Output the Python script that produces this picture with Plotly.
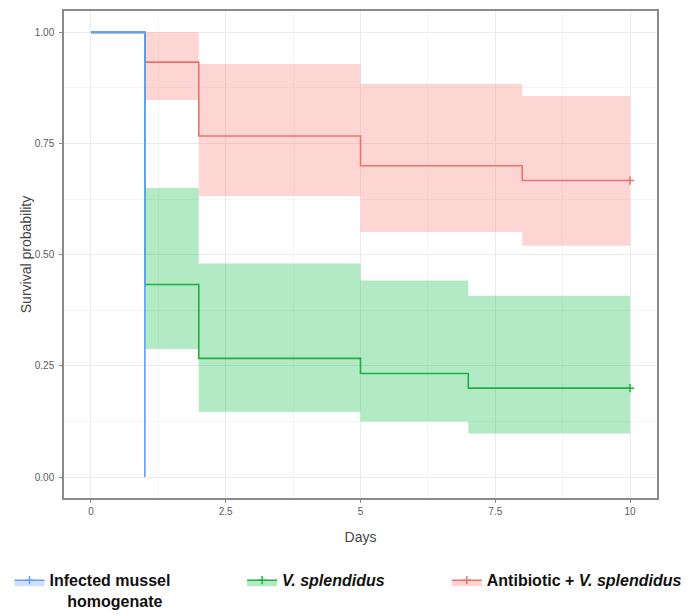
import plotly.graph_objects as go

# ---- data ----
groups = ["Infected mussel<br>\u00a0\u00a0\u00a0\u00a0homogenate",
          "<i>V. splendidus</i>",
          "Antibiotic + <i>V. splendidus</i>"]

blue_days = [0, 1]
blue_surv = [1.0, 0.0]

green_days = [0, 1, 2, 5, 7, 10]
green_surv = [1.0, 0.433, 0.267, 0.233, 0.200, 0.200]
green_upper = [1.0, 0.650, 0.480, 0.442, 0.408, 0.408]
green_lower = [1.0, 0.288, 0.147, 0.125, 0.098, 0.098]

red_days = [0, 1, 2, 5, 8, 10]
red_surv = [1.0, 0.933, 0.767, 0.700, 0.667, 0.667]
red_upper = [1.0, 1.000, 0.929, 0.884, 0.857, 0.857]
red_lower = [1.0, 0.848, 0.632, 0.551, 0.520, 0.520]

x_ticks = [0, 2.5, 5, 7.5, 10]
x_tick_labels = ["0", "2.5", "5", "7.5", "10"]
y_ticks = [0, 0.25, 0.5, 0.75, 1.0]
y_tick_labels = ["0.00", "0.25", "0.50", "0.75", "1.00"]

BLUE = "#619CFF"
GREEN = "#1FAF45"
RED = "#EA726B"
GREEN_FILL = "rgba(0,186,56,0.30)"
RED_FILL = "rgba(248,118,109,0.30)"
BLUE_FILL = "rgba(97,156,255,0.30)"

fig = go.Figure()

# confidence bands
for days, lo, up, fillc in [(red_days, red_lower, red_upper, RED_FILL),
                            (green_days, green_lower, green_upper, GREEN_FILL)]:
    fig.add_trace(go.Scatter(x=days, y=lo, mode="lines", line=dict(width=0, shape="hv"),
                             showlegend=False, hoverinfo="skip"))
    fig.add_trace(go.Scatter(x=days, y=up, mode="lines", line=dict(width=0, shape="hv"),
                             fill="tonexty", fillcolor=fillc, showlegend=False, hoverinfo="skip"))

# survival curves
for days, surv, col in [(red_days, red_surv, RED), (green_days, green_surv, GREEN)]:
    fig.add_trace(go.Scatter(x=days, y=surv, mode="lines", line=dict(color=col, width=1.6, shape="hv"),
                             showlegend=False))
    fig.add_trace(go.Scatter(x=[days[-1]], y=[surv[-1]], mode="markers",
                             marker=dict(symbol="cross-thin", size=6, line=dict(color=col, width=1.5)),
                             showlegend=False))
fig.add_trace(go.Scatter(x=blue_days, y=blue_surv, mode="lines",
                         line=dict(color=BLUE, width=1.6, shape="hv"), showlegend=False))

# legend entries (one legend box per group, positioned like the reference)
legend_ids = ["legend", "legend2", "legend3"]
for name, col, fillc, lid in zip(groups, [BLUE, GREEN, RED], [BLUE_FILL, GREEN_FILL, RED_FILL], legend_ids):
    fig.add_trace(go.Scatter(x=[None], y=[None], mode="lines+markers", name=name, legend=lid,
                             line=dict(color=col, width=1.5), fill="toself", fillcolor=fillc,
                             marker=dict(symbol="cross-thin", size=6, line=dict(color=col, width=1.5))))

axis_common = dict(showline=True, linecolor="#8a8a8a", linewidth=1.5, mirror=True,
                   ticks="outside", ticklen=3, tickcolor="#8a8a8a",
                   gridcolor="#ebebeb", gridwidth=1, zeroline=False,
                   tickfont=dict(family="Liberation Sans, Arial", size=10, color="#5a5a5a"))

leg_font = dict(family="Liberation Sans, Arial", size=16, color="#111", weight="bold")
leg_common = dict(orientation="h", xanchor="left", yanchor="top", valign="top",
                  y=-0.134, font=leg_font, bgcolor="rgba(0,0,0,0)")

fig.update_layout(
    width=689, height=616,
    margin=dict(l=55, r=40, t=1, b=126),
    plot_bgcolor="white", paper_bgcolor="white",
    xaxis=dict(range=[-0.5, 10.5], tickvals=x_ticks, ticktext=x_tick_labels,
               minor=dict(dtick=1.25, tick0=0, showgrid=True, gridcolor="#f5f5f5", ticks=""),
               title=dict(text="Days", font=dict(family="Liberation Sans, Arial", size=14, color="#444"),
                          standoff=16),
               **axis_common),
    yaxis=dict(range=[-0.047, 1.048], tickvals=y_ticks, ticktext=y_tick_labels,
               minor=dict(dtick=0.125, tick0=0, showgrid=True, gridcolor="#f5f5f5", ticks=""),
               ticklabelstandoff=3,
               title=dict(text="Survival probability",
                          font=dict(family="Liberation Sans, Arial", size=14, color="#444"),
                          standoff=0),
               **axis_common),
    legend=dict(x=-0.0919, **leg_common),
    legend2=dict(x=0.3003, **leg_common),
    legend3=dict(x=0.6455, **leg_common),
)

fig.write_html("out.html")
